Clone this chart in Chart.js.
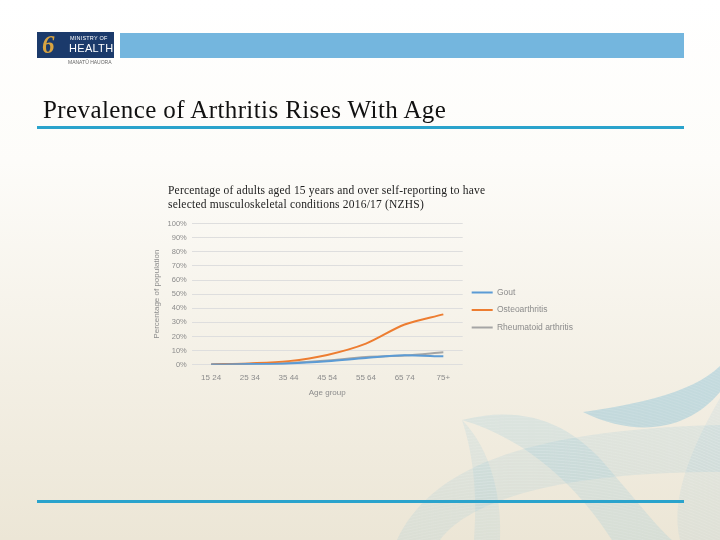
<!DOCTYPE html>
<html lang="en">
<head>
  <meta charset="UTF-8" />
  <title>Prevalence of Arthritis Rises With Age</title>
  <script src="https://cdn.jsdelivr.net/npm/chart.js"></script>
  <style>
    body {
      margin: 0;
      width: 720px;
      height: 540px;
      overflow: hidden;
      position: relative;
      background: linear-gradient(to bottom, #ffffff 0%, #fdfcf9 30%, #f3efe4 70%, #ece6d6 100%);
      font-family: 'Liberation Serif', serif;
    }
    #deco { position: absolute; left: 0; top: 0; }
    .logo {
      position: absolute;
      left: 37px; top: 32px;
      width: 77px; height: 26px;
      background: #1b3a6b;
      color: white;
      font-family: 'Liberation Sans', sans-serif;
    }
    .logo .mark {
      position: absolute; left: 5px; top: 1px;
      font-family: 'Liberation Serif', serif;
      font-size: 25px; font-style: italic; font-weight: bold;
      color: #d9a441; line-height: 24px;
    }
    .logo .l1 { position: absolute; left: 33px; top: 3px; font-size: 5.5px; letter-spacing: 0.2px; }
    .logo .l2 { position: absolute; left: 32px; top: 10px; font-size: 11px; letter-spacing: 0.3px; }
    .sub-logo {
      position: absolute; left: 68px; top: 59px;
      font-family: 'Liberation Sans', sans-serif;
      font-size: 5px; color: #666;
    }
    .topbar {
      position: absolute; left: 120px; top: 33px;
      width: 564px; height: 25px;
      background: #74b6de;
    }
    h1 {
      position: absolute; left: 43px; top: 96px;
      margin: 0;
      font-weight: normal;
      font-size: 25px;
      letter-spacing: 0.4px;
      color: #111;
      white-space: nowrap;
    }
    .rule {
      position: absolute; left: 37px; width: 647px; height: 3px;
      background: #2aa3cc;
    }
    .subtitle {
      position: absolute; left: 168px; top: 183px;
      font-size: 11.5px; line-height: 14px; letter-spacing: 0.2px; color: #222;
      white-space: nowrap;
    }
    #chartBox { position: absolute; left: 151px; top: 214px; width: 436px; height: 190px; }
  </style>
</head>
<body>
  <canvas id="deco" width="720" height="540"></canvas>
  <div class="logo"><span class="mark">6</span><span class="l1">MINISTRY OF</span><span class="l2">HEALTH</span></div>
  <div class="sub-logo">MANATŪ HAUORA</div>
  <div class="topbar"></div>
  <h1>Prevalence of Arthritis Rises With Age</h1>
  <div class="rule" style="top:126px"></div>
  <div class="subtitle">Percentage of adults aged 15 years and over self-reporting to have<br>selected musculoskeletal conditions 2016/17 (NZHS)</div>
  <div id="chartBox"><canvas id="arthritisChart"></canvas></div>
  <div class="rule" style="top:500px"></div>

  <script>
    const ageGroups = ['15 24', '25 34', '35 44', '45 54', '55 64', '65 74', '75+'];
    const gout = [0.2, 0.5, 1.0, 2.5, 4.8, 6.7, 6.0];
    const osteoarthritis = [0.3, 1.0, 2.6, 7.0, 15.0, 28.5, 35.7];
    const rheumatoid = [0.3, 0.7, 1.3, 3.0, 5.5, 6.5, 8.8];

    // background swirls, bottom right
    const d = document.getElementById('deco').getContext('2d');
    function swirl(path, alpha) {
      d.save();
      d.beginPath();
      path();
      d.closePath();
      d.fillStyle = 'rgba(105,180,212,' + alpha + ')';
      d.fill();
      d.clip();
      d.strokeStyle = 'rgba(255,255,255,0.2)';
      d.lineWidth = 0.5;
      for (let k = -200; k < 400; k += 3) {
        d.beginPath();
        d.moveTo(380, 380 + k);
        d.quadraticCurveTo(560, 330 + k, 720, 400 + k);
        d.stroke();
      }
      d.restore();
    }
    swirl(() => {
      d.moveTo(583, 412);
      d.bezierCurveTo(630, 405, 690, 395, 720, 366);
      d.lineTo(720, 392);
      d.bezierCurveTo(690, 428, 640, 440, 583, 412);
    }, 0.34);
    swirl(() => {
      d.moveTo(462, 420);
      d.bezierCurveTo(520, 405, 570, 420, 610, 470);
      d.bezierCurveTo(640, 505, 660, 530, 672, 540);
      d.lineTo(612, 540);
      d.bezierCurveTo(580, 490, 530, 440, 462, 420);
    }, 0.16);
    swirl(() => {
      d.moveTo(462, 420);
      d.bezierCurveTo(492, 450, 502, 500, 500, 540);
      d.lineTo(474, 540);
      d.bezierCurveTo(478, 490, 472, 450, 462, 420);
    }, 0.12);
    swirl(() => {
      d.moveTo(397, 540);
      d.bezierCurveTo(430, 470, 520, 430, 720, 425);
      d.lineTo(720, 472);
      d.bezierCurveTo(560, 472, 470, 500, 440, 540);
    }, 0.13);
    swirl(() => {
      d.moveTo(720, 398);
      d.bezierCurveTo(690, 450, 670, 500, 680, 540);
      d.lineTo(720, 540);
    }, 0.1);

    const ctx = document.getElementById('arthritisChart').getContext('2d');
    new Chart(ctx, {
      type: 'line',
      data: {
        labels: ageGroups,
        datasets: [
          { label: 'Gout', data: gout, borderColor: '#5b9bd5', backgroundColor: '#5b9bd5' },
          { label: 'Osteoarthritis', data: osteoarthritis, borderColor: '#ed7d31', backgroundColor: '#ed7d31' },
          { label: 'Rheumatoid arthritis', data: rheumatoid, borderColor: '#a5a5a5', backgroundColor: '#a5a5a5' }
        ]
      },
      options: {
        responsive: true,
        maintainAspectRatio: false,
        animation: false,
        elements: {
          line: { borderWidth: 2, tension: 0.35, cubicInterpolationMode: 'monotone' },
          point: { radius: 0 }
        },
        layout: { padding: { top: 4, bottom: 2, right: 4 } },
        plugins: {
          tooltip: { enabled: false },
          legend: {
            position: 'right',
            align: 'center',
            maxWidth: 160,
            labels: {
              boxWidth: 21,
              boxHeight: 2,
              padding: 9,
              color: '#8c8c8c',
              font: { family: 'Liberation Sans', size: 8.5 },
              generateLabels(chart) {
                return Chart.defaults.plugins.legend.labels.generateLabels(chart)
                  .map(l => Object.assign(l, { lineWidth: 0 }));
              }
            }
          }
        },
        scales: {
          x: {
            offset: true,
            grid: { display: false },
            border: { display: false },
            ticks: { color: '#8c8c8c', font: { family: 'Liberation Sans', size: 8 }, padding: 0 },
            title: { display: true, text: 'Age group', color: '#8c8c8c', font: { family: 'Liberation Sans', size: 8 }, padding: { top: 6 } }
          },
          y: {
            min: 0,
            max: 100,
            ticks: {
              stepSize: 10,
              color: '#8c8c8c',
              font: { family: 'Liberation Sans', size: 7.5 },
              padding: 5,
              callback: v => v + '%'
            },
            grid: { color: '#dedede', drawTicks: false },
            border: { display: false },
            title: { display: true, text: 'Percentage of population', color: '#8c8c8c', font: { family: 'Liberation Sans', size: 8 }, padding: 1 }
          }
        }
      }
    });
  </script>
</body>
</html>
